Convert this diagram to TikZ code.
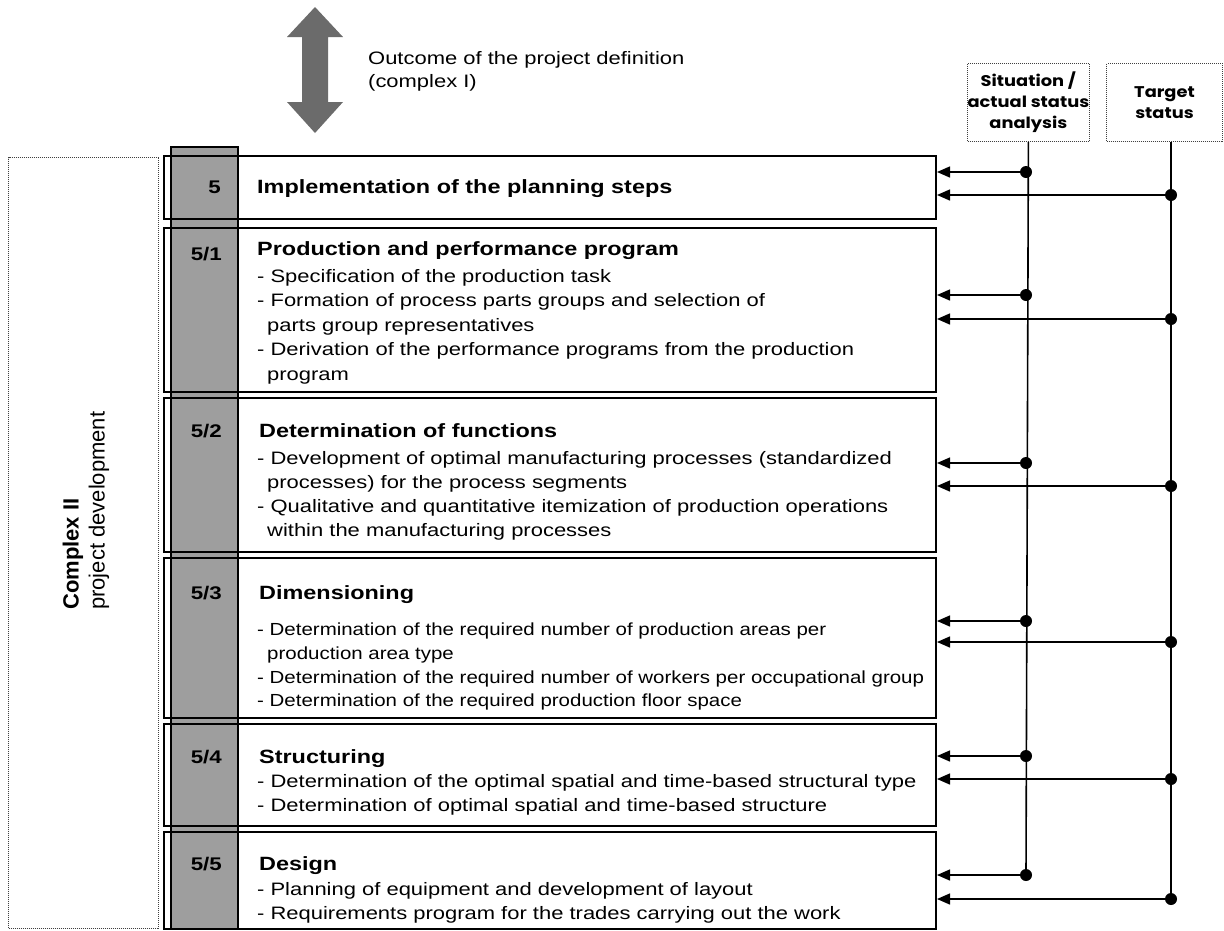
\documentclass[tikz,border=0pt]{standalone}
\usepackage{fontspec}
\setmainfont[FakeStretch=1.22]{Liberation Sans}
\newfontfamily\narrowsans[FakeStretch=1.17]{Liberation Sans}
\newfontfamily\plainsans{Liberation Sans}
\newfontfamily\headsans[FakeStretch=1.15]{Poppins}
\usetikzlibrary{arrows.meta}

\begin{document}
\begin{tikzpicture}[x=1pt,y=-1pt,
  stepbox/.style={draw=black, line width=2pt, minimum width=772pt, anchor=north west, inner sep=0pt},
  graycol/.style={draw=black, line width=1.5pt, fill=black!38, anchor=north west, inner sep=0pt},
  dotbox/.style={draw=black!75, densely dotted, line width=1pt, anchor=north west, inner sep=0pt},
  headbox/.style={dotbox, align=center, font=\headsans\fontsize{15.5}{21}\selectfont\bfseries},
  numlabel/.style={anchor=base east, inner sep=0pt, font=\fontsize{18.3}{20}\selectfont\bfseries},
  headline/.style={anchor=base west, inner sep=0pt, font=\fontsize{19.2}{21}\selectfont\bfseries},
  bodyline/.style={anchor=base west, inner sep=0pt, font=\fontsize{18}{20}\selectfont},
  narrowline/.style={anchor=base west, inner sep=0pt, font=\narrowsans\fontsize{17.5}{20}\selectfont},
  feed/.style={line width=1.4pt, -{Triangle[length=13pt,width=11pt]}},
  spine/.style={line width=1.6pt},
  junction/.style={circle, fill=black, inner sep=0pt, minimum size=12pt},
]
\useasboundingbox (0,0) rectangle (1224,930);

% double arrow towards the project definition
\fill[black!58] (315,7) -- (343,37) -- (328,37) -- (328,102) -- (343,102)
  -- (315,133) -- (287,102) -- (302,102) -- (302,37) -- (287,37) -- cycle;
\node[bodyline] (out1) at (368,64) {Outcome of the project definition};
\node[bodyline] (out2) at (368,87) {(complex I)};

% complex II frame
\node[dotbox, minimum width=150pt, minimum height=771pt] (cplx) at (8,157) {};
\node[rotate=90, anchor=west, align=left, inner sep=0pt,
      font=\plainsans\fontsize{22}{26}\selectfont] (cplxlabel) at (86,610)
  {\textbf{Complex II}\\project development};

% grey number column
\node[graycol, minimum width=67pt, minimum height=782pt] (col) at (170,146) {};

% step boxes
\node[stepbox, minimum height=63pt]  (b0) at (163,155) {};
\node[stepbox, minimum height=164pt] (b1) at (163,227) {};
\node[stepbox, minimum height=154pt] (b2) at (163,397) {};
\node[stepbox, minimum height=160pt] (b3) at (163,557) {};
\node[stepbox, minimum height=102pt] (b4) at (163,723) {};
\node[stepbox, minimum height=97pt]  (b5) at (163,831) {};

% step 5
\node[numlabel] (n0) at (221,193) {5};
\node[headline] (h0) at (257,193) {Implementation of the planning steps};

% step 5/1
\node[numlabel] (n1) at (222,260) {5/1};
\node[headline] (h1) at (257,255) {Production and performance program};
\node[bodyline] (l11) at (257,282) {- Specification of the production task};
\node[bodyline] (l12) at (257,306.5) {- Formation of process parts groups and selection of};
\node[bodyline] (l13) at (267,331) {parts group representatives};
\node[bodyline] (l14) at (257,355.5) {- Derivation of the performance programs from the production};
\node[bodyline] (l15) at (267,380) {program};

% step 5/2
\node[numlabel] (n2) at (222,437) {5/2};
\node[headline] (h2) at (259,437) {Determination of functions};
\node[bodyline] (l21) at (257,464) {- Development of optimal manufacturing processes (standardized};
\node[bodyline] (l22) at (267,488) {processes) for the process segments};
\node[bodyline] (l23) at (257,512) {- Qualitative and quantitative itemization of production operations};
\node[bodyline] (l24) at (267,536) {within the manufacturing processes};

% step 5/3
\node[numlabel] (n3) at (222,599) {5/3};
\node[headline] (h3) at (259,599) {Dimensioning};
\node[narrowline] (l31) at (257,635) {- Determination of the required number of production areas per};
\node[narrowline] (l32) at (267,659) {production area type};
\node[narrowline] (l33) at (257,683) {- Determination of the required number of workers per occupational group};
\node[narrowline] (l34) at (257,706) {- Determination of the required production floor space};

% step 5/4
\node[numlabel] (n4) at (222,763) {5/4};
\node[headline] (h4) at (259,763) {Structuring};
\node[bodyline] (l41) at (257,787) {- Determination of the optimal spatial and time-based structural type};
\node[bodyline] (l42) at (257,811) {- Determination of optimal spatial and time-based structure};

% step 5/5
\node[numlabel] (n5) at (222,870) {5/5};
\node[headline] (h5) at (259,870) {Design};
\node[bodyline] (l51) at (257,895) {- Planning of equipment and development of layout};
\node[bodyline] (l52) at (257,919) {- Requirements program for the trades carrying out the work};

% analysis inputs
\node[headbox, minimum width=121pt, minimum height=78pt] (sit) at (967,63)
  {Situation /\\actual status\\analysis};
\node[headbox, minimum width=116pt, minimum height=78pt] (tgt) at (1106,63)
  {Target\\status};

% junctions on the situation line
\node[junction] (s0) at (1026,172) {};
\node[junction] (s1) at (1026,295) {};
\node[junction] (s2) at (1026,463) {};
\node[junction] (s3) at (1026,621) {};
\node[junction] (s4) at (1026,756) {};
\node[junction] (s5) at (1026,875) {};
% junctions on the target line
\node[junction] (t0) at (1171,195) {};
\node[junction] (t1) at (1171,319) {};
\node[junction] (t2) at (1171,486) {};
\node[junction] (t3) at (1171,642) {};
\node[junction] (t4) at (1171,779) {};
\node[junction] (t5) at (1171,899) {};

\draw[spine] (sit.south) -- (s5.center);
\draw[spine] (tgt.south -| t5) -- (t5.center);

\foreach \k in {0,...,5}{
  \draw[feed] (s\k.center) -- (s\k.center -| b\k.east);
  \draw[feed] (t\k.center) -- (t\k.center -| b\k.east);
}
\end{tikzpicture}
\end{document}
